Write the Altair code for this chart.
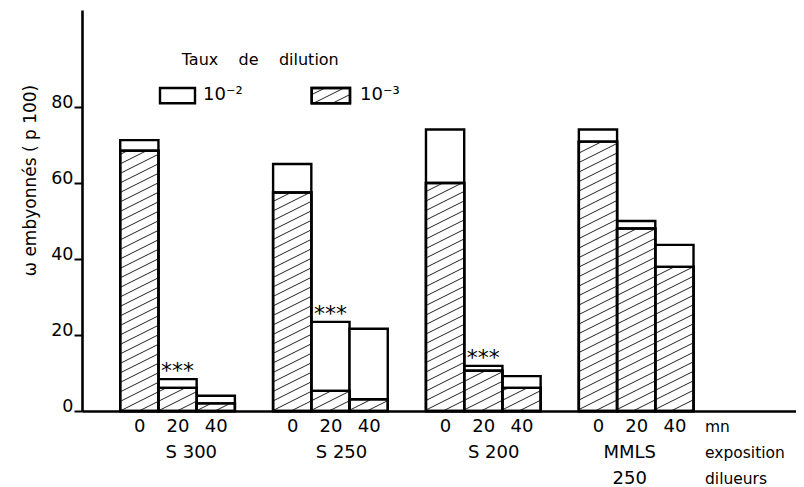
import json
import altair as alt
import pandas as pd

# ---------------- data ----------------
groups = ["S 300", "S 250", "S 200", "MMLS"]
group_sub = ["", "", "", "250"]
minutes = ["0", "20", "40"]
# % (p 100) for each group x exposure time (0, 20, 40 mn)
pct_1e2 = [71.4, 8.4, 4.0, 65.1, 23.5, 21.7, 74.2, 11.9, 9.2, 74.2, 50.1, 43.8]
pct_1e3 = [68.6, 6.1, 2.0, 57.6, 5.3, 3.1, 60.1, 10.6, 6.1, 71.0, 48.1, 38.0]
stars = ["", "***", "", "", "***", "", "", "***", "", "", "", ""]
y_ticks = [0, 20, 40, 60, 80]
unit_labels = ["mn", "exposition", "dilueurs"]
legend_title = "Taux\u00a0\u00a0\u00a0\u00a0de\u00a0\u00a0\u00a0\u00a0dilution"
legend_labels = ["10⁻²", "10⁻³"]
y_title = "ω embyonnés (\u00a0p 100)"

# ---------------- layout ----------------
W, H = 714, 401
SLOT_PX = 38.22
X_MAX = W / SLOT_PX
Y_MAX = 105.7
PX_PER_Y = H / Y_MAX
FONT = "DejaVu Sans"
HATCH_SLOPE = 0.5      # pixel rise per pixel
HATCH_GAP = 9.5        # vertical pixel spacing
label_shift = [0.36, 0.29, 0.27, -0.17]
row_y = [417, 443, 469]
unit_x = 16.3
FS = 18

rows = []
for g in range(len(groups)):
    for b in range(len(minutes)):
        i = g * len(minutes) + b
        slot = g * (len(minutes) + 1) + b + 1
        rows.append(dict(x=slot, x2=slot + 1, c=slot + 0.5, hi=pct_1e2[i], lo=pct_1e3[i],
                         star=stars[i], zero=0.0))
bars = pd.DataFrame(rows)


def hatch(x0, x1, y0, y1, k, s):
    segs = []
    width = x1 - x0
    m = int((y0 - k * width - k * x0) // s) - 1
    while True:
        c = m * s + k * x0
        if c > y1:
            break
        xa = x0 + min(max(0.0, (y0 - c) / k), width)
        xb = x0 + max(min(width, (y1 - c) / k), 0.0)
        if xb > xa + 1e-6:
            segs.append(dict(x=xa, y=c + k * (xa - x0), x2=xb, y2=c + k * (xb - x0)))
        m += 1
    return segs


k_data = HATCH_SLOPE * SLOT_PX / PX_PER_Y
s_data = HATCH_GAP / PX_PER_Y
hsegs = []
for r in rows:
    hsegs += hatch(r["x"], r["x2"], 0.0, r["lo"], k_data, s_data)
hatch_df = pd.DataFrame(hsegs)

xscale = alt.Scale(domain=[0, X_MAX], nice=False, zero=False)
yscale = alt.Scale(domain=[0, Y_MAX], nice=False)

tick_vals = [r["c"] for r in rows]
label_expr = f"{json.dumps(minutes)}[floor(datum.value) % {len(minutes) + 1} - 1]"

x_axis = alt.Axis(values=tick_vals, labelExpr=label_expr, ticks=False, domainColor="black",
                  domainWidth=2.4, labelFontSize=FS, labelFont=FONT, labelColor="black",
                  labelPadding=6, labelBaseline="top", grid=False,
                  labelFlush=False, labelOverlap=False)
y_axis = alt.Axis(values=y_ticks, domainColor="black", domainWidth=2.6, tickColor="black",
                  tickWidth=2, tickSize=8, labelFontSize=17.5, labelFont=FONT, labelColor="black",
                  labelPadding=1, labelBaseline="alphabetic", grid=False, labelFlush=False,
                  titleFont=FONT, titleFontSize=17, titleFontWeight="normal",
                  titleColor="black", titleX=-47, titleY=170, titleAngle=270,
                  titleAlign="center", titleBaseline="alphabetic")


def X(field):
    return alt.X(field, scale=xscale, axis=x_axis, title=None)


def Y(field):
    return alt.Y(field, scale=yscale, axis=y_axis, title=y_title)


base = alt.Chart(bars)
white = base.mark_rect(fill="white", stroke="black", strokeWidth=2.4).encode(
    x=X("x:Q"), x2="x2:Q", y=Y("hi:Q"), y2="zero:Q")
hatched_bg = base.mark_rect(fill="white", stroke="black", strokeWidth=2.4).encode(
    x=X("x:Q"), x2="x2:Q", y=Y("lo:Q"), y2="zero:Q")
hlines = alt.Chart(hatch_df).mark_rule(color="#222", strokeWidth=1).encode(
    x=X("x:Q"), x2="x2:Q", y=Y("y:Q"), y2="y2:Q")
hatched_fg = base.mark_rect(fill=None, stroke="black", strokeWidth=2.4).encode(
    x=X("x:Q"), x2="x2:Q", y=Y("lo:Q"), y2="zero:Q")
star_txt = base.mark_text(font=FONT, fontSize=22, baseline="alphabetic", align="center",
                          dy=-1, color="black").encode(
    x=X("c:Q"), y=Y("hi:Q"), text="star:N")

# group labels under the axis
glab = pd.DataFrame(dict(
    x=[g * (len(minutes) + 1) + 1 + len(minutes) / 2 + label_shift[g] for g in range(len(groups))],
    name=groups, sub=group_sub))
g1 = alt.Chart(glab).mark_text(font=FONT, fontSize=FS, baseline="middle", color="black").encode(
    x=X("x:Q"), y=alt.value(row_y[1]), text="name:N")
g2 = alt.Chart(glab).mark_text(font=FONT, fontSize=FS, baseline="middle", color="black").encode(
    x=X("x:Q"), y=alt.value(row_y[2]), text="sub:N")
ulab = pd.DataFrame(dict(x=[unit_x] * 3, t=unit_labels, y=row_y))
u = alt.Chart(ulab).mark_text(font=FONT, fontSize=15.5, baseline="middle", align="left",
                              color="black").encode(
    x=X("x:Q"), y=alt.Y("y:Q", scale=None), text="t:N")

# legend (pixel positions inside plot area)
leg_boxes = pd.DataFrame(dict(px=[78, 229.7], px2=[113, 268], py=[78, 78], py2=[93.3, 93.3]))
lb = alt.Chart(leg_boxes).mark_rect(fill="white", stroke="black", strokeWidth=2.4).encode(
    x=alt.X("px:Q", scale=None), x2="px2:Q", y=alt.Y("py:Q", scale=None), y2="py2:Q")
lsegs = hatch(229.7, 268, -93.3, -78, HATCH_SLOPE, HATCH_GAP)
lsegs = [dict(px=s_["x"], px2=s_["x2"], py=-s_["y"], py2=-s_["y2"]) for s_ in lsegs]
lh = alt.Chart(pd.DataFrame(lsegs)).mark_rule(color="#222", strokeWidth=1).encode(
    x=alt.X("px:Q", scale=None), x2="px2:Q", y=alt.Y("py:Q", scale=None), y2="py2:Q")
lb2 = alt.Chart(leg_boxes.iloc[1:]).mark_rect(fill=None, stroke="black", strokeWidth=2.4).encode(
    x=alt.X("px:Q", scale=None), x2="px2:Q", y=alt.Y("py:Q", scale=None), y2="py2:Q")
leg_text = pd.DataFrame(dict(px=[99.7, 121, 278], py=[50, 85, 85],
                             t=[legend_title] + legend_labels,
                             fs=[16, 18, 18]))
lt = alt.Chart(leg_text).mark_text(font=FONT, baseline="middle", align="left",
                                   color="black").encode(
    x=alt.X("px:Q", scale=None), y=alt.Y("py:Q", scale=None), text="t:N",
    size=alt.Size("fs:Q", scale=None, legend=None))

chart = alt.layer(white, hatched_bg, hlines, hatched_fg, star_txt, g1, g2, u,
                  lb, lh, lb2, lt).properties(
    width=W, height=H,
    autosize=alt.AutoSizeParams(type="none"),
    padding={"left": 74, "top": 2, "right": 0, "bottom": 76},
    background="white",
).configure_view(stroke=None)

chart.save("out.html", embed_options={"renderer": "svg", "actions": False})
